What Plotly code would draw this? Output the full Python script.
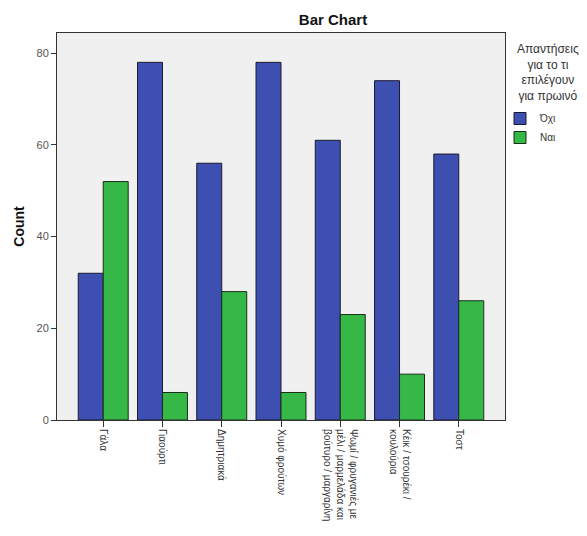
import plotly.graph_objects as go

categories = ["Γάλα", "Γιαούρτι", "Δημητριακά", "Χυμό φρούτων",
              "Ψωμί / φρυγανιές με<br>μέλι / μαρμελάδα και<br>βούτυρο / μαργαρίνη",
              "Κέικ / τσουρέκι /<br>κουλούρια", "Τοστ"]
no_values = [32, 78, 56, 78, 61, 74, 58]
yes_values = [52, 6, 28, 6, 23, 10, 26]
series_names = ["Όχι", "Ναι"]
y_ticks = [0, 20, 40, 60, 80]
legend_title = "Απαντήσεις<br>για το τι<br>επιλέγουν<br>για πρωινό"

W, H = 587, 536
L, R, T, B = 57, 82, 33, 116

fig = go.Figure()
fig.add_trace(go.Bar(x=categories, y=no_values, name=series_names[0],
                     marker=dict(color="#3D50B2", line=dict(color="#1a1a2e", width=1))))
fig.add_trace(go.Bar(x=categories, y=yes_values, name=series_names[1],
                     marker=dict(color="#35B845", line=dict(color="#1a2e1a", width=1))))

fig.update_layout(
    width=W, height=H,
    margin=dict(l=L, r=R, t=T, b=B, autoexpand=False),
    paper_bgcolor="white",
    plot_bgcolor="#F0F0F0",
    barmode="group",
    bargap=0.157,
    bargroupgap=0,
    font=dict(family="Liberation Sans, Arial, sans-serif", size=11, color="#333"),
    title=dict(text="<b>Bar Chart</b>", x=333/W, xanchor="center", y=1 - 20/H, yanchor="middle",
               font=dict(size=15, color="#111")),
    legend=dict(
        x=(500 - L) / (W - L - R), xanchor="left",
        y=1 - (104 - T) / (H - T - B), yanchor="top",
        font=dict(size=10, color="#333"),
        itemwidth=30, bgcolor="rgba(0,0,0,0)",
        tracegroupgap=0,
    ),
    showlegend=True,
    annotations=[dict(text=legend_title, xref="paper", yref="paper",
                      x=(548 - L) / (W - L - R), y=1 - (40 - T) / (H - T - B),
                      xanchor="center", yanchor="top", align="center", showarrow=False,
                      font=dict(size=12, color="#333"))],
)
fig.update_xaxes(
    range=[-0.78, 6.78],
    tickangle=90, ticks="outside", ticklen=6, tickcolor="#333",
    showline=True, linecolor="#333", linewidth=1, mirror=True,
    tickfont=dict(size=10, color="#333"),
)
fig.update_yaxes(
    range=[0, 84.4], tickvals=y_ticks, ticks="outside", ticklen=5, tickcolor="#333",
    showgrid=False, zeroline=False,
    showline=True, linecolor="#333", linewidth=1, mirror=True,
    title=dict(text="<b>Count</b>", font=dict(size=14, color="#111"), standoff=8),
    tickfont=dict(size=11, color="#555"),
)
fig.write_html("out.html", config={"displayModeBar": False},
               post_script="document.body.style.margin='0';document.body.style.padding='0';")
